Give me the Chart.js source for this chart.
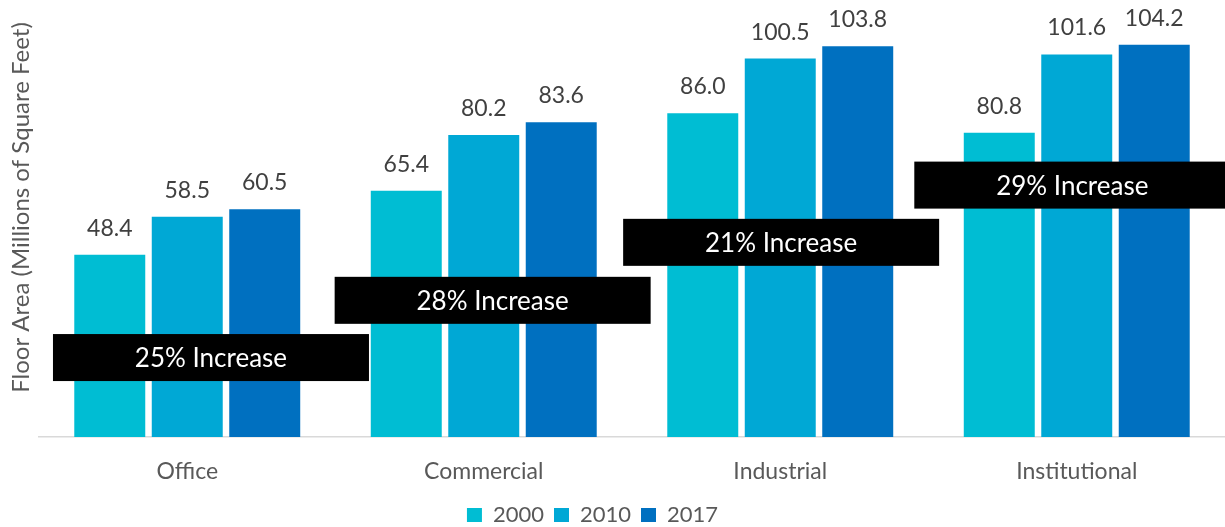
<!DOCTYPE html>
<html>
<head>
<meta charset="utf-8">
<script src="https://cdn.jsdelivr.net/npm/chart.js@4/dist/chart.umd.min.js"></script>
<style>
  html, body { margin: 0; padding: 0; background: #ffffff; }
  #wrap { width: 1225px; height: 527px; position: relative; }
</style>
</head>
<body>
<div id="wrap"><canvas id="chart" width="1225" height="527"></canvas></div>
<script>
// Building floor area by sector, three survey years
const categories = ['Office', 'Commercial', 'Industrial', 'Institutional'];
const years = ['2000', '2010', '2017'];
const values2000 = [48.4, 65.4, 86.0, 80.8];
const values2010 = [58.5, 80.2, 100.5, 101.6];
const values2017 = [60.5, 83.6, 103.8, 104.2];
const increaseLabels = ['25% Increase', '28% Increase', '21% Increase', '29% Increase'];
const axisTitle = 'Floor Area (Millions of Square Feet)';

// Where each "increase" callout sits, in axis units (category offset, value)
const calloutAnchors = [
  { dx: 0.08, y: 21.1 },
  { dx: 0.03, y: 36.3 },
  { dx: 0.003, y: 51.7 },
  { dx: -0.015, y: 66.9 }
];

const FONT = 'Lato, "Open Sans", sans-serif';
const seriesColors = ['#00BDD3', '#00A8D5', '#0070C0'];

// Value labels drawn above each bar
const valueLabelPlugin = {
  id: 'valueLabels',
  afterDatasetsDraw(chart) {
    const ctx = chart.ctx;
    ctx.save();
    ctx.font = '23px ' + FONT;
    ctx.fillStyle = '#404040';
    ctx.textAlign = 'center';
    ctx.textBaseline = 'alphabetic';
    chart.data.datasets.forEach((ds, di) => {
      const meta = chart.getDatasetMeta(di);
      meta.data.forEach((bar, i) => {
        ctx.fillText(ds.data[i].toFixed(1), bar.x, bar.y - 19);
      });
    });
    ctx.restore();
  }
};

// Black callout boxes with growth percentage per sector
const calloutPlugin = {
  id: 'callouts',
  afterDatasetsDraw(chart) {
    const ctx = chart.ctx;
    const xs = chart.scales.x, ys = chart.scales.y;
    const w = 316, h = 47;
    ctx.save();
    ctx.font = '26px ' + FONT;
    ctx.textAlign = 'center';
    ctx.textBaseline = 'alphabetic';
    increaseLabels.forEach((txt, i) => {
      const a = calloutAnchors[i];
      const cx = xs.getPixelForValue(i + a.dx);
      const cy = ys.getPixelForValue(a.y);
      ctx.fillStyle = '#000000';
      ctx.fillRect(cx - w / 2, cy - h / 2, w, h);
      ctx.fillStyle = '#ffffff';
      ctx.fillText(txt, cx, cy + 9.5);
    });
    ctx.restore();
  }
};

// Vertical axis title, set a little above the plot's midline
const axisTitlePlugin = {
  id: 'axisTitle',
  afterDraw(chart) {
    const ctx = chart.ctx;
    const area = chart.chartArea;
    ctx.save();
    ctx.translate(21.5, (area.top + area.bottom) / 2 - 13);
    ctx.rotate(-Math.PI / 2);
    ctx.font = '24px ' + FONT;
    ctx.fillStyle = '#595959';
    ctx.textAlign = 'center';
    ctx.textBaseline = 'middle';
    ctx.fillText(axisTitle, 0, 0);
    ctx.restore();
  }
};

// Nudge the legend row toward the bottom-centre of the plot
const legendOffset = { dx: -20, dy: 11 };
const legendNudgePlugin = {
  id: 'legendNudge',
  afterLayout(chart) {
    const lg = chart.legend;
    if (!lg) return;
    lg.left += legendOffset.dx;
    lg.right += legendOffset.dx;
    lg.top += legendOffset.dy;
    lg.bottom += legendOffset.dy;
  }
};

const seriesValues = [values2000, values2010, values2017];

new Chart(document.getElementById('chart'), {
  type: 'bar',
  data: {
    labels: categories,
    datasets: years.map((yr, k) => ({
      label: yr,
      data: seriesValues[k],
      backgroundColor: seriesColors[k],
      borderWidth: 0,
      categoryPercentage: 0.784,
      barPercentage: 0.916
    }))
  },
  options: {
    responsive: false,
    animation: false,
    devicePixelRatio: 1,
    layout: { padding: { top: 4, left: 0, right: 0, bottom: 2 } },
    plugins: {
      legend: {
        position: 'bottom',
        labels: {
          font: { family: FONT, size: 22 },
          color: '#595959',
          boxWidth: 15,
          boxHeight: 14,
          padding: 10
        }
      },
      tooltip: { enabled: false }
    },
    scales: {
      x: {
        grid: { display: false, drawTicks: false },
        border: { display: true, color: '#D9D9D9', width: 1.5 },
        ticks: {
          font: { family: FONT, size: 23 },
          color: '#595959',
          padding: 21
        },
        afterFit(scale) { scale.height = 46; }
      },
      y: {
        min: 0,
        max: 115,
        grid: { display: false, drawTicks: false },
        border: { display: false },
        ticks: { display: false },
        afterFit(scale) { scale.width = 39; }
      }
    }
  },
  plugins: [valueLabelPlugin, calloutPlugin, axisTitlePlugin, legendNudgePlugin]
});
</script>
</body>
</html>
